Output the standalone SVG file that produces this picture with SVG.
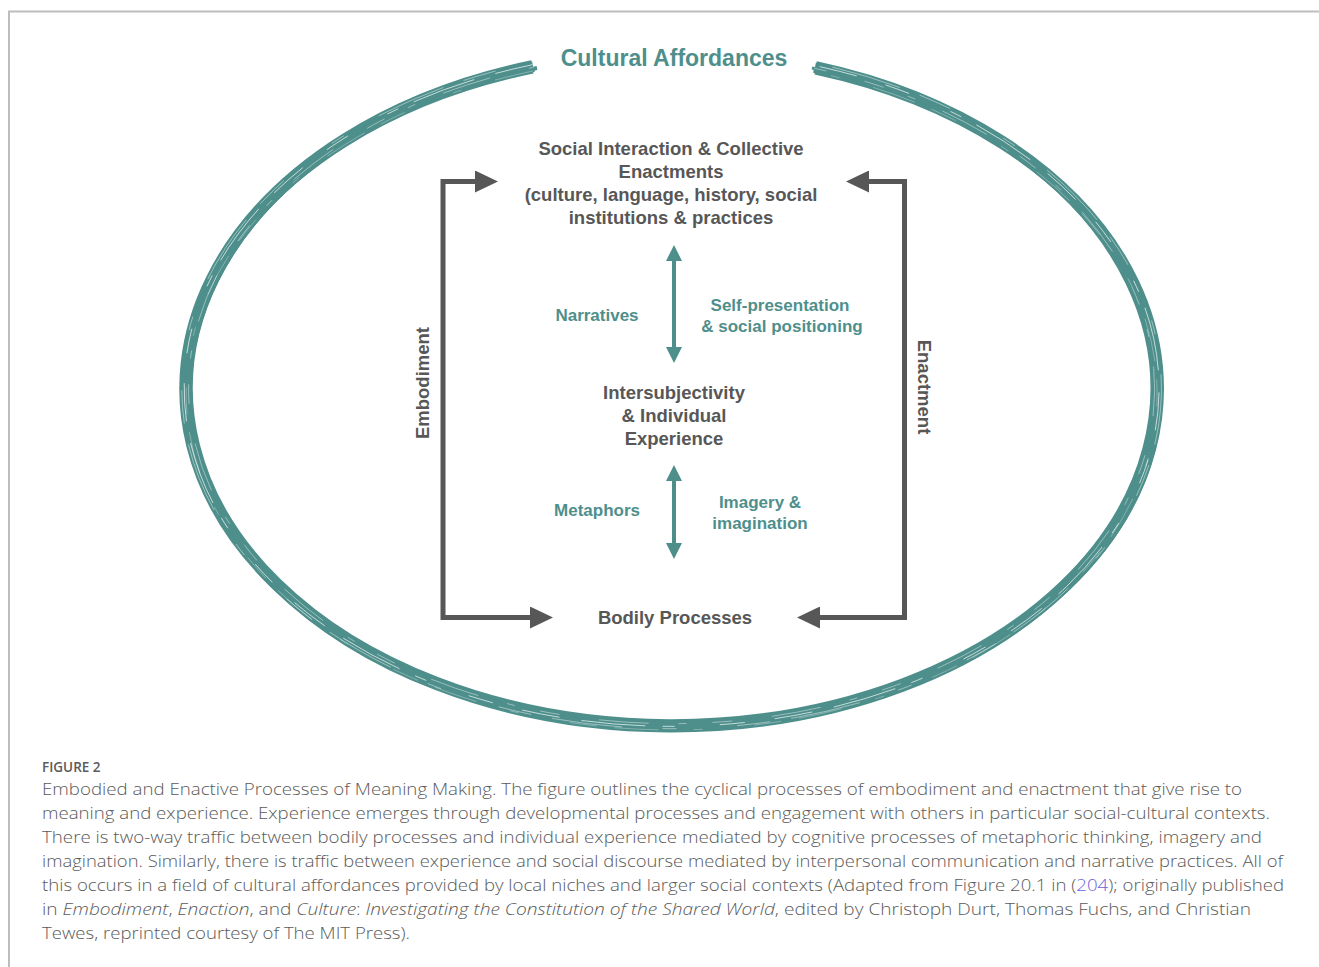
<svg xmlns="http://www.w3.org/2000/svg" width="1319" height="967" viewBox="0 0 1319 967">
<defs>
<style>
.node{font-family:"Liberation Sans",Arial,sans-serif;font-weight:bold;font-size:18.5px;fill:#575757;text-anchor:middle}
.lab{font-family:"Liberation Sans",Arial,sans-serif;font-weight:bold;font-size:17px;fill:#4e8f8c;text-anchor:middle}
.title{font-family:"Liberation Sans",Arial,sans-serif;font-weight:bold;font-size:23px;fill:#4e8f8c;text-anchor:middle}
.cap{font-family:"Open Sans","Noto Sans",sans-serif;font-weight:300;font-size:16.5px;fill:#5a5a5a}
.fig{font-family:"Open Sans","Noto Sans",sans-serif;font-weight:600;font-size:13.5px;fill:#5a5a5a}
.gray{fill:none;stroke:#575757;stroke-width:5}
.teal{fill:none;stroke:#4e8f8c;stroke-width:4}
.brush{fill:none;stroke:#4e8f8c}
.streak{fill:none;stroke:#fff}
</style>
<marker id="gh" markerUnits="userSpaceOnUse" markerWidth="23" markerHeight="22" refX="0" refY="11" orient="auto-start-reverse" viewBox="0 0 23 22">
<path d="M0,0 L23,11 L0,22 z" fill="#575757"/>
</marker>
<marker id="th" markerUnits="userSpaceOnUse" markerWidth="16" markerHeight="16" refX="0" refY="8" orient="auto-start-reverse" viewBox="0 0 16 16">
<path d="M0,0 L16,8 L0,16 z" fill="#4e8f8c"/>
</marker>
<path id="ell" d="M 533 66 A 485.5 336.5 0 1 0 815 67"/>
</defs>
<rect width="1319" height="967" fill="#fff"/>
<g id="frame" stroke="#bdbdbd" stroke-width="2" fill="none">
<path d="M9 967 V11.5 H1319"/>
</g>
<g id="cultural-affordances">
<use href="#ell" class="brush" stroke-width="9"/>
<use href="#ell" class="brush" stroke-width="5" transform="translate(0 5)"/>
<use href="#ell" class="brush" stroke-width="3" transform="translate(671.5 388.5) scale(1.011 1.013) translate(-671.5 -388.5)"/>
<use href="#ell" class="brush" stroke-width="3" transform="translate(671.5 388.5) scale(0.989 0.987) translate(-671.5 -388.5)"/>
<use href="#ell" class="brush" stroke-width="4" transform="translate(4 2)"/>
<use href="#ell" class="brush" stroke-width="3" transform="translate(-3 1)"/>
<use href="#ell" class="streak" stroke-width="0.9" stroke-dasharray="38 22 64 17 12 45 25 30" opacity="0.75" transform="translate(671.5 388.5) scale(1.004 1.004) translate(-671.5 -388.5)"/>
<use href="#ell" class="streak" stroke-width="0.7" stroke-dasharray="20 40 50 30 8 26" stroke-dashoffset="15" opacity="0.6" transform="translate(671.5 388.5) scale(0.995 0.996) translate(-671.5 -388.5)"/>
<use href="#ell" class="streak" stroke-width="0.8" stroke-dasharray="14 60 33 21 70 40" stroke-dashoffset="37" opacity="0.55" transform="translate(671.5 388.5) scale(1.009 1.011) translate(-671.5 -388.5)"/>
<use href="#ell" class="streak" stroke-width="0.6" stroke-dasharray="44 35 9 52 27 18" stroke-dashoffset="5" opacity="0.5" transform="translate(0 5)"/>
<text class="title" x="674" y="66">Cultural Affordances</text>
</g>
<g id="connectors">
<path class="gray" d="M475 181.5 H443 V617.5 H530" marker-start="url(#gh)" marker-end="url(#gh)"/>
<path class="gray" d="M869 181.5 H904.5 V617.5 H820" marker-start="url(#gh)" marker-end="url(#gh)"/>
<path class="teal" d="M674 261 V347" marker-start="url(#th)" marker-end="url(#th)"/>
<path class="teal" d="M674 481 V543" marker-start="url(#th)" marker-end="url(#th)"/>
</g>
<g id="embodiment-label">
<text class="node" transform="translate(429 383) rotate(-90)">Embodiment</text>
</g>
<g id="enactment-label">
<text class="node" transform="translate(918 387) rotate(90)">Enactment</text>
</g>
<g id="social-interaction">
<text class="node" x="671" y="154.5">Social Interaction &amp; Collective</text>
<text class="node" x="671" y="177.5">Enactments</text>
<text class="node" x="671" y="200.5">(culture, language, history, social</text>
<text class="node" x="671" y="223.5">institutions &amp; practices</text>
</g>
<g id="intersubjectivity">
<text class="node" x="674" y="399">Intersubjectivity</text>
<text class="node" x="674" y="422">&amp; Individual</text>
<text class="node" x="674" y="445">Experience</text>
</g>
<g id="bodily-processes">
<text class="node" x="675" y="624">Bodily Processes</text>
</g>
<g id="narratives"><text class="lab" x="597" y="321">Narratives</text></g>
<g id="self-presentation">
<text class="lab" x="780" y="311">Self-presentation</text>
<text class="lab" x="782" y="332">&amp; social positioning</text>
</g>
<g id="metaphors"><text class="lab" x="597" y="516">Metaphors</text></g>
<g id="imagery">
<text class="lab" x="760" y="508">Imagery &amp;</text>
<text class="lab" x="760" y="529">imagination</text>
</g>
<g id="caption">
<text class="fig" x="42" y="772">FIGURE 2</text>
<text class="cap" x="42" y="795" textLength="1200" lengthAdjust="spacingAndGlyphs">Embodied and Enactive Processes of Meaning Making. The figure outlines the cyclical processes of embodiment and enactment that give rise to</text>
<text class="cap" x="42" y="819" textLength="1228" lengthAdjust="spacingAndGlyphs">meaning and experience. Experience emerges through developmental processes and engagement with others in particular social-cultural contexts.</text>
<text class="cap" x="42" y="843" textLength="1220" lengthAdjust="spacingAndGlyphs">There is two-way traffic between bodily processes and individual experience mediated by cognitive processes of metaphoric thinking, imagery and</text>
<text class="cap" x="42" y="867" textLength="1241" lengthAdjust="spacingAndGlyphs">imagination. Similarly, there is traffic between experience and social discourse mediated by interpersonal communication and narrative practices. All of</text>
<text class="cap" x="42" y="891" textLength="1242" lengthAdjust="spacingAndGlyphs">this occurs in a field of cultural affordances provided by local niches and larger social contexts (Adapted from Figure 20.1 in (<tspan fill="#6b5fd6">204</tspan>); originally published</text>
<text class="cap" x="42" y="915" textLength="1209" lengthAdjust="spacingAndGlyphs">in <tspan font-style="italic">Embodiment</tspan>, <tspan font-style="italic">Enaction</tspan>, and <tspan font-style="italic">Culture</tspan>: <tspan font-style="italic">Investigating the Constitution of the Shared World</tspan>, edited by Christoph Durt, Thomas Fuchs, and Christian</text>
<text class="cap" x="42" y="939" textLength="368" lengthAdjust="spacingAndGlyphs">Tewes, reprinted courtesy of The MIT Press).</text>
</g>
</svg>
